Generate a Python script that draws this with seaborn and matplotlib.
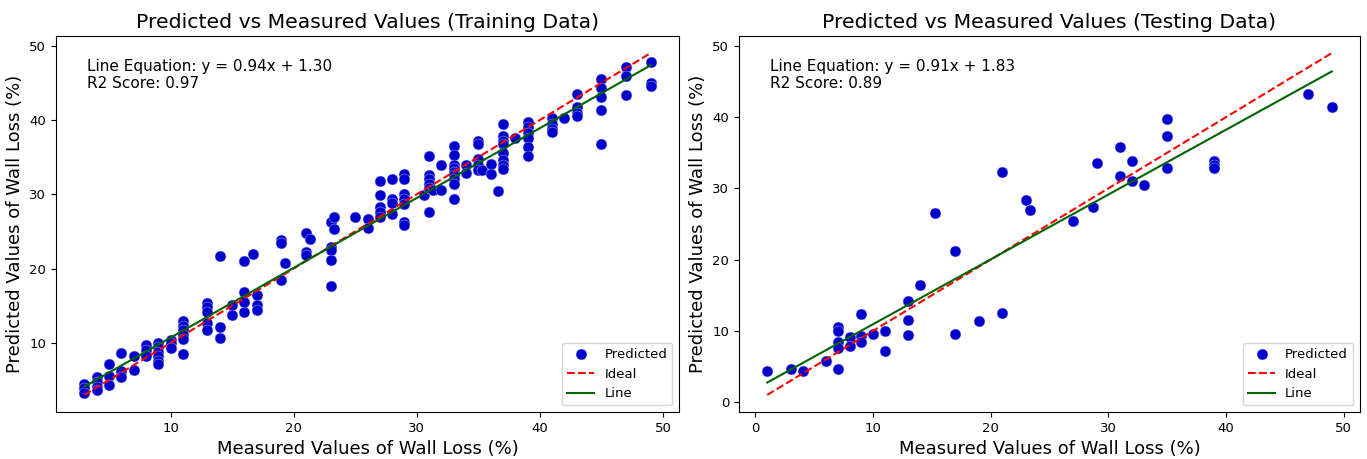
import matplotlib
matplotlib.use("Agg")
import matplotlib.pyplot as plt
import seaborn as sns
import numpy as np
import pandas as pd

# ---- Training set: measured vs predicted wall loss (%) ----
train_measured = [
    3, 3, 3,
    4, 4, 4, 4,
    5, 5, 5,
    6, 6, 6,
    7, 7,
    8, 8, 8,
    9, 9, 9, 9, 9, 9,
    10, 10, 10,
    11, 11, 11, 11, 11, 11,
    13, 13, 13, 13, 13,
    14, 14, 14,
    15, 15,
    16, 16, 16, 16,
    16.7,
    17, 17, 17,
    19, 19, 19,
    19.3,
    21, 21, 21,
    21.3,
    23, 23, 23, 23, 23,
    23.3, 23.3,
    25,
    26, 26,
    27, 27, 27, 27, 27,
    28, 28, 28, 28,
    29, 29, 29, 29, 29, 29, 29,
    30.6,
    31, 31, 31, 31, 31, 31,
    31.3,
    32, 32,
    33, 33, 33, 33, 33, 33, 33, 33, 33,
    34, 34,
    35, 35, 35, 35, 35,
    35.3,
    36, 36,
    36.6,
    37, 37, 37, 37, 37, 37, 37, 37,
    38,
    39, 39, 39, 39, 39, 39,
    41, 41, 41, 41,
    42,
    43, 43, 43, 43,
    45, 45, 45, 45, 45,
    47, 47, 47,
    49, 49, 49,
]
train_predicted = [
    4.5, 3.9, 3.3,
    5.4, 4.8, 4.1, 3.7,
    7.2, 5.5, 4.4,
    8.6, 6.2, 5.4,
    8.2, 6.3,
    9.7, 9.1, 8.3,
    10.0, 9.4, 8.8, 8.3, 7.6, 7.1,
    10.4, 10.0, 9.3,
    12.9, 12.3, 11.7, 11.1, 10.5, 8.5,
    15.4, 14.8, 14.1, 12.7, 11.8,
    21.7, 12.2, 10.6,
    15.1, 13.8,
    21.0, 16.9, 15.5, 14.1,
    21.9,
    16.5, 15.1, 14.4,
    23.8, 23.4, 18.5,
    20.7,
    24.8, 22.2, 21.8,
    24.0,
    26.3, 22.9, 22.5, 21.1, 17.7,
    26.9, 25.3,
    26.9,
    26.7, 25.4,
    31.8, 29.9, 28.3, 27.6, 27.0,
    32.0, 29.3, 28.8, 27.3,
    32.7, 32.1, 30.1, 29.4, 28.7, 26.3, 25.8,
    29.9,
    35.2, 32.6, 32.0, 31.4, 30.9, 27.6,
    30.6,
    34.0, 30.6,
    36.5, 35.3, 34.0, 33.5, 33.0, 32.6, 32.0, 31.4, 29.3,
    33.9, 32.8,
    37.2, 36.7, 34.8, 33.9, 33.3,
    33.3,
    34.1, 32.7,
    30.4,
    39.5, 37.9, 37.2, 36.7, 35.5, 34.6, 33.9, 33.4,
    37.6,
    39.7, 39.1, 38.2, 37.6, 36.4, 35.2,
    40.2, 39.4, 38.8, 38.4,
    40.2,
    43.5, 41.7, 41.0, 40.6,
    45.5, 44.3, 43.1, 41.4, 36.8,
    47.1, 45.9, 43.3,
    47.8, 45.0, 44.6,
]

# ---- Testing set ----
test_measured = [
    1, 3, 4, 6,
    7, 7, 7, 7, 7,
    8, 8,
    9, 9, 9,
    10,
    11, 11,
    13, 13, 13,
    14, 15.3,
    17, 17,
    19,
    21, 21,
    23, 23.3,
    27, 28.7, 29,
    31, 31,
    32, 32,
    33,
    35, 35, 35,
    39, 39, 39,
    47, 49,
]
test_predicted = [
    4.3, 4.7, 4.4, 5.7,
    10.6, 10.0, 8.5, 7.6, 4.6,
    9.2, 7.9,
    12.4, 9.3, 8.5,
    9.5,
    10.0, 7.1,
    14.2, 11.5, 9.4,
    16.5, 26.6,
    21.2, 9.5,
    11.4,
    32.3, 12.5,
    28.4, 26.9,
    25.4, 27.4, 33.6,
    35.8, 31.7,
    33.8, 31.1,
    30.5,
    39.7, 37.4, 32.9,
    33.8, 33.3, 32.8,
    43.2, 41.4,
]

# Fitted regression line parameters and scores for each set
panel_titles = ["Predicted vs Measured Values (Training Data)",
                "Predicted vs Measured Values (Testing Data)"]
fit_slopes = [0.94, 0.91]
fit_intercepts = [1.30, 1.83]
r2_scores = [0.97, 0.89]

x_label = "Measured Values of Wall Loss (%)"
y_label = "Predicted Values of Wall Loss (%)"

fig = plt.figure(figsize=(13.67, 4.59), dpi=100)
ax_train = fig.add_axes([56 / 1367, 47 / 459, 623 / 1367, 376 / 459])
ax_test = fig.add_axes([739 / 1367, 47 / 459, 621 / 1367, 376 / 459])

point_color = "#0000CC"

panels = [
    (ax_train, train_measured, train_predicted),
    (ax_test, test_measured, test_predicted),
]

for i, (ax, measured, predicted) in enumerate(panels):
    df = pd.DataFrame({"measured": measured, "predicted": predicted})
    sns.scatterplot(data=df, x="measured", y="predicted", ax=ax,
                    color=point_color, s=62, edgecolor="#c8c8f0",
                    linewidth=0.3, label="Predicted", zorder=2)

    lo, hi = df["measured"].min(), df["measured"].max()
    ideal = pd.DataFrame({"x": [lo, hi], "y": [lo, hi]})
    sns.lineplot(data=ideal, x="x", y="y", ax=ax, color="red",
                 linestyle="--", linewidth=1.5, label="Ideal", zorder=3)

    slope, intercept = fit_slopes[i], fit_intercepts[i]
    fit_x = np.array([lo, hi])
    fit = pd.DataFrame({"x": fit_x, "y": slope * fit_x + intercept})
    sns.lineplot(data=fit, x="x", y="y", ax=ax, color="darkgreen",
                 linewidth=1.5, label="Line", zorder=3)

    ax.set_title(panel_titles[i], fontsize=14.7)
    ax.set_xlabel(x_label, fontsize=13)
    ax.set_ylabel(y_label, fontsize=13)
    ax.tick_params(labelsize=9.5)
    ax.text(0.05, 0.94,
            f"Line Equation: y = {slope:.2f}x + {intercept:.2f}\n"
            f"R2 Score: {r2_scores[i]:.2f}",
            transform=ax.transAxes, va="top", ha="left", fontsize=11)
    ax.legend(loc="lower right", fontsize=9.5)

fig.savefig("out.png", dpi=100)
